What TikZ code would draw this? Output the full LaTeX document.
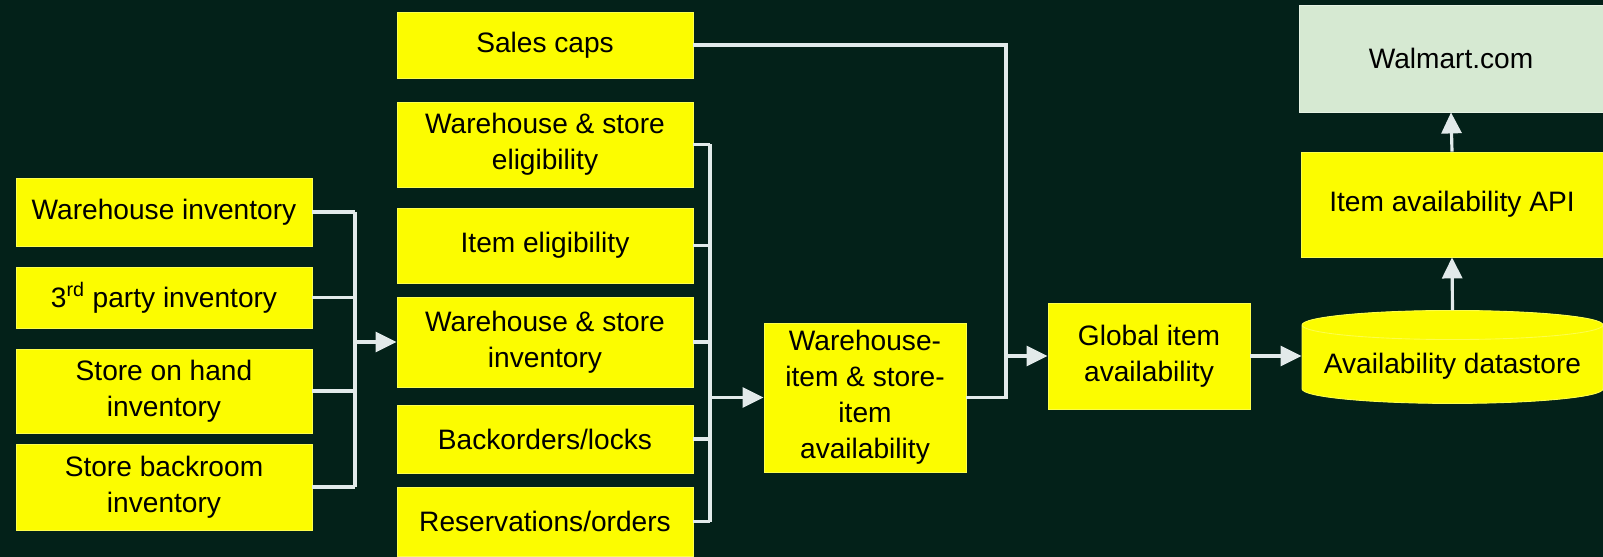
\documentclass[tikz,border=0pt]{standalone}
\usepackage{fontspec}
\setmainfont{Liberation Sans}
\usetikzlibrary{arrows.meta,shapes.geometric}

\definecolor{bgdark}{RGB}{3,33,25}
\definecolor{boxyellow}{RGB}{252,252,0}
\definecolor{webgreen}{RGB}{214,233,210}
\definecolor{linkgray}{RGB}{226,234,234}

\begin{document}
\begin{tikzpicture}[x=0.02cm, y=-0.02cm,
    srcbox/.style={rectangle, fill=boxyellow, draw=boxyellow!70!white, line width=0.5pt,
        align=center, text=black, inner sep=2pt, minimum width=5.92cm,
        font=\fontsize{16}{20.5}\selectfont},
    storebox/.style={srcbox, cylinder, shape border rotate=90, aspect=0.11,
        cylinder uses custom fill, cylinder body fill=boxyellow, cylinder end fill=boxyellow},
    link/.style={draw=linkgray, line width=1.8pt},
    flow/.style={link, -{Triangle[length=0.42cm, width=0.4cm]}}]

    % Background
    \useasboundingbox (0,0) rectangle (1603,557);
    \fill[bgdark] (0,0) rectangle (1603,557);

    % Draw inventory sources
    \foreach \name/\y/\h/\txt in {
        whinv/212/1.36/{Warehouse inventory},
        tpinv/297.5/1.22/{3\textsuperscript{rd} party inventory},
        sohinv/391/1.68/{Store on hand\\inventory},
        sbinv/487/1.72/{Store backroom\\inventory}} {
        \node[srcbox, minimum height=\h cm] (\name) at (164,\y) {\txt};
    }

    % Draw item and store inputs
    \foreach \name/\y/\h/\txt in {
        sales/45/1.32/{Sales caps},
        wselig/144.5/1.70/{Warehouse \& store\\eligibility},
        itelig/245.5/1.50/{Item eligibility},
        wsinv/342/1.80/{Warehouse \& store\\inventory},
        backord/439/1.36/{Backorders/locks},
        reserv/521.5/1.38/{Reservations/orders}} {
        \node[srcbox, minimum height=\h cm] (\name) at (545,\y) {\txt};
    }

    % Draw availability chain
    \node[srcbox, minimum width=4.04cm, minimum height=2.98cm] (whisa) at (865,397.5)
        {Warehouse-\\item \& store-\\item\\availability};
    \node[srcbox, minimum width=4.04cm, minimum height=2.12cm] (global) at (1149,356)
        {Global item\\availability};
    \node[storebox, minimum width=6.02cm, minimum height=1.86cm] (dstore) at (1452.5,366)
        {Availability datastore};
    \node[srcbox, minimum width=6.04cm, minimum height=2.10cm] (api) at (1452,204.5)
        {Item availability API};
    \node[srcbox, fill=webgreen, draw=webgreen!60!white, minimum width=6.08cm,
        minimum height=2.14cm] (walmart) at (1451,58.5) {Walmart.com};

    % Draw inventory bus
    \coordinate (lbus) at (355,343);
    \foreach \src in {whinv,tpinv,sohinv,sbinv} {
        \draw[link] (\src.east) -- (\src.east -| lbus);
    }
    \draw[link] (whinv.east -| lbus) -- (sbinv.east -| lbus);
    \draw[flow] (wsinv.west -| lbus) -- (wsinv.west);

    % Draw input bus
    \coordinate (mbus) at (710,397);
    \foreach \src in {wselig,itelig,wsinv,backord,reserv} {
        \draw[link] (\src.east) -- (\src.east -| mbus);
    }
    \draw[link] (wselig.east -| mbus) -- (reserv.east -| mbus);
    \draw[flow] (whisa.west -| mbus) -- (whisa.west);

    % Draw global bus
    \coordinate (rbus) at (1006,356);
    \draw[link] (sales.east) -| (rbus |- whisa.east) -- (whisa.east);
    \draw[flow] (rbus |- global.west) -- (global.west);

    % Draw outputs
    \draw[flow] (global.east) -- (dstore.west |- global.east);
    \draw[flow] (dstore.north) -- (api.south);
    \draw[flow] (api.north) -- (walmart.south);
\end{tikzpicture}
\end{document}
